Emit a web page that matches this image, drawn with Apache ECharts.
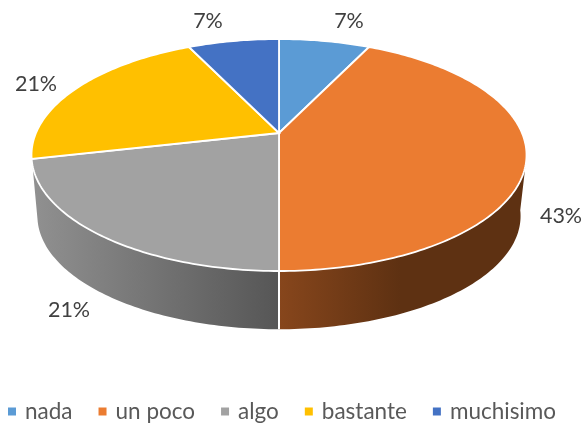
<!DOCTYPE html>
<html>
<head>
<meta charset="utf-8">
<style>
  html, body { margin: 0; background: #fff; }
  #chart { width: 584px; height: 425px; }
</style>
<script src="https://cdn.jsdelivr.net/npm/echarts@6/dist/echarts.min.js"></script>
</head>
<body>
<div id="chart"></div>
<script>
const categories = ["nada", "un poco", "algo", "bastante", "muchisimo"];
const counts = [1, 6, 3, 3, 1];

const colors = ["#5B9BD5", "#EB7C31", "#A2A2A2", "#FFC000", "#4472C4"];
// side wall shading, only the slices that reach the front have one
const wallStops = {
  1: { x0: 279, x1: 400, from: "#87461c", to: "#5e3112" },
  2: { x0: 35, x1: 279, from: "#909090", to: "#565656" },
};
// best-fit positions of the percent labels
const labelPos = [[349, 21], [561, 216], [69, 310], [36, 84], [208, 21]];

const total = counts.reduce((a, b) => a + b, 0);
let acc = 0;
const slices = counts.map((v) => {
  const s = { start: (acc / total) * 360, end: ((acc + v) / total) * 360, pct: Math.round((v / total) * 100) + "%" };
  acc += v;
  return s;
});

// disc seen in perspective: the apex is not in the middle of the ellipse
const apex = { x: 279, y: 133 };
const view = { a: 243, b: 111.8, k: -0.19 };
const rimCenterY = 155;
const floor = { scale: 0.976, centerY: 216 };
const wallTop = [106, 254];
const wallBottom = [98, 262];

function rim(deg, lower) {
  const t = (deg * Math.PI) / 180;
  const X = Math.sin(t);
  const Y = -Math.cos(t);
  const w = 1 + view.k * Y;
  const x = apex.x + (view.a * X) / w;
  const y = apex.y + (view.b * Y) / w;
  if (!lower) return [x, y];
  return [apex.x + (x - apex.x) * floor.scale, floor.centerY + (y - rimCenterY) * floor.scale];
}

function arc(from, to, lower) {
  const n = Math.max(2, Math.ceil(Math.abs(to - from)));
  const pts = [];
  for (let i = 0; i <= n; i++) pts.push(rim(from + ((to - from) * i) / n, lower));
  return pts;
}

function renderSlice(params) {
  const i = params.seriesIndex;
  const s = slices[i];
  const children = [];
  const a0 = Math.max(s.start, wallTop[0]);
  const a1 = Math.min(s.end, wallTop[1]);
  if (a1 > a0) {
    const b0 = Math.max(s.start, wallBottom[0]);
    const b1 = Math.min(s.end, wallBottom[1]);
    const g = wallStops[i];
    children.push({
      type: "polygon",
      shape: { points: arc(a0, a1, false).concat(arc(b1, b0, true)) },
      style: {
        fill: new echarts.graphic.LinearGradient(g.x0, 0, g.x1, 0, [
          { offset: 0, color: g.from },
          { offset: 1, color: g.to },
        ], true),
      },
    });
    // white seam where this wall starts
    if (s.start > wallTop[0]) {
      children.push({
        type: "line",
        z2: 5,
        shape: { x1: rim(s.start)[0], y1: rim(s.start)[1], x2: rim(s.start, true)[0], y2: rim(s.start, true)[1] },
        style: { stroke: "#fff", lineWidth: 2 },
      });
    }
  }
  children.push({
    type: "polygon",
    z2: 6,
    shape: { points: [[apex.x, apex.y]].concat(arc(s.start, s.end, false)) },
    style: { fill: colors[i], stroke: "#fff", lineWidth: 1.8 },
  });
  children.push({
    type: "text",
    x: labelPos[i][0],
    y: labelPos[i][1],
    z2: 10,
    style: {
      text: s.pct,
      fill: "#404040",
      font: '21.5px Lato, "Open Sans", sans-serif',
      align: "center",
      verticalAlign: "middle",
    },
  });
  return { type: "group", children };
}

const chart = echarts.init(document.getElementById("chart"), null, { renderer: "canvas" });
chart.setOption({
  animation: false,
  backgroundColor: "#fff",
  legend: {
    data: categories,
    left: 8,
    top: 400,
    padding: 0,
    icon: "rect",
    itemWidth: 8,
    itemHeight: 8,
    itemGap: 26,
    textStyle: { color: "#595959", fontSize: 22.5, fontFamily: "Lato", padding: [0, 0, 0, 4] },
  },
  series: categories.map((name, i) => ({
    type: "custom",
    name,
    coordinateSystem: "none",
    itemStyle: { color: colors[i] },
    data: [counts[i]],
    renderItem: renderSlice,
  })),
});
</script>
</body>
</html>
